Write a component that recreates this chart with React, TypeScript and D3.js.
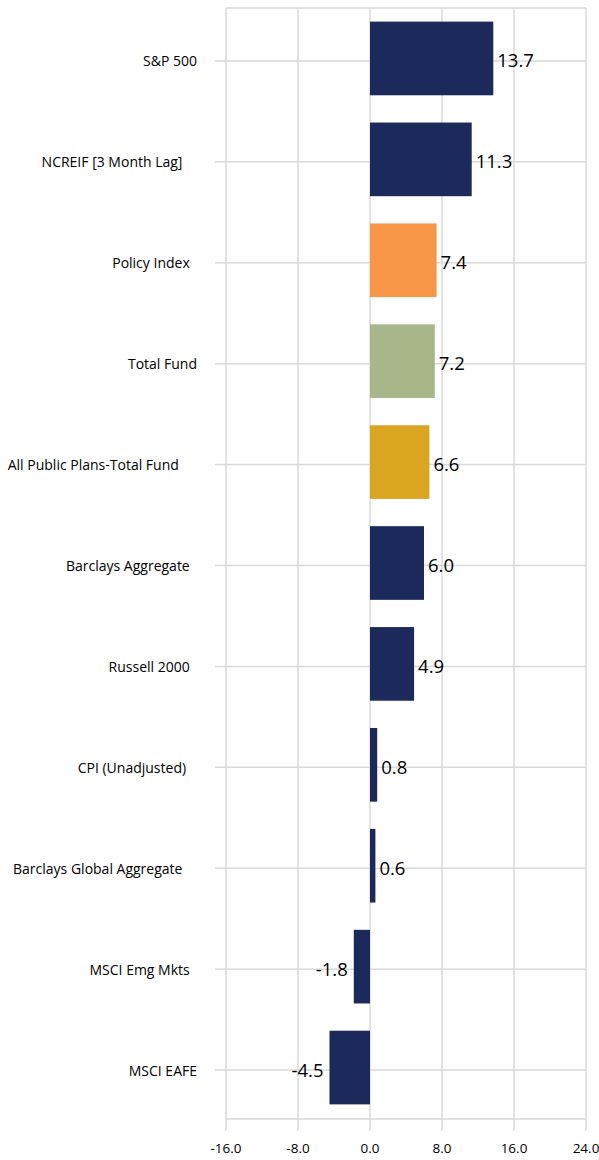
import React from "react";
import * as d3 from "d3";

const categories = [
  "S&P 500",
  "NCREIF [3 Month Lag]    ",
  "Policy Index  ",
  "Total Fund",
  "All Public Plans-Total Fund     ",
  "Barclays Aggregate  ",
  "Russell 2000  ",
  "CPI (Unadjusted)   ",
  "Barclays Global Aggregate    ",
  "MSCI Emg Mkts  ",
  "MSCI EAFE",
];
const values = [13.7, 11.3, 7.4, 7.2, 6.6, 6.0, 4.9, 0.8, 0.6, -1.8, -4.5];
const xTicks = [-16, -8, 0, 8, 16, 24];

const NAVY = "#1B2A5B";
const highlight: Record<string, string> = {
  "Policy Index": "#F79646",
  "Total Fund": "#A9B68A",
  "All Public Plans-Total Fund": "#DAA520",
};

const W = 599;
const H = 1160;
const left = 226;
const right = 586;
const top = 8;
const bottom = 1119;
const FONT = "'Open Sans', 'Liberation Sans', sans-serif";
const fmt = (v: number) => d3.format(".1f")(v).replace("\u2212", "-");

export default function App() {
  const x = d3.scaleLinear().domain([-16, 24]).range([left, right]);
  const y = d3
    .scaleBand<string>()
    .domain(categories)
    .range([top, 1118])
    .paddingInner(0.27)
    .paddingOuter(0.135);
  const grid = "#D9D9D9";
  return (
    <svg
      width={W}
      height={H}
      style={{ position: "absolute", left: 0, top: 0, background: "#fff" }}
      fontFamily={FONT}
    >
      <rect x={0} y={0} width={W} height={H} fill="#fff" />
      {xTicks.map((t) => (
        <line
          key={"v" + t}
          x1={x(t)}
          x2={x(t)}
          y1={top}
          y2={1131}
          stroke={grid}
          strokeWidth={1.5}
        />
      ))}
      {categories.map((c) => {
        const cy = (y(c) as number) + y.bandwidth() / 2 + 2.5;
        return (
          <line
            key={"h" + c}
            x1={215}
            x2={right}
            y1={cy}
            y2={cy}
            stroke={grid}
            strokeWidth={1.5}
          />
        );
      })}
      <line x1={left} x2={right} y1={top} y2={top} stroke={grid} strokeWidth={1.5} />
      <line x1={left} x2={right} y1={bottom} y2={bottom} stroke={grid} strokeWidth={1.5} />
      {categories.map((c, i) => {
        const v = values[i];
        const x0 = x(Math.min(0, v));
        const x1 = x(Math.max(0, v));
        const fill = highlight[c.trim()] ?? NAVY;
        return (
          <rect
            key={"b" + c}
            x={x0}
            y={y(c)}
            width={x1 - x0}
            height={y.bandwidth()}
            fill={fill}
          />
        );
      })}
      {categories.map((c, i) => {
        const v = values[i];
        const cy = (y(c) as number) + y.bandwidth() / 2 + 1.5;
        const pos = v >= 0;
        return (
          <text
            key={"l" + c}
            x={pos ? x(v) + 4 : x(v) - 6}
            y={cy}
            textAnchor={pos ? "start" : "end"}
            dominantBaseline="central"
            fontSize={18.5}
            fill="#000"
          >
            {fmt(v)}
          </text>
        );
      })}
      {categories.map((c) => {
        const cy = (y(c) as number) + y.bandwidth() / 2 + 2.5;
        return (
          <text
            key={"c" + c}
            x={197}
            y={cy}
            textAnchor="end"
            dominantBaseline="central"
            fontSize={14}
            fill="#000"
            style={{ whiteSpace: "pre" }}
          >
            {c}
          </text>
        );
      })}
      {xTicks.map((t) => (
        <text
          key={"t" + t}
          x={x(t)}
          y={1148}
          textAnchor="middle"
          dominantBaseline="central"
          fontSize={13.5}
          fill="#000"
        >
          {fmt(t)}
        </text>
      ))}
    </svg>
  );
}
